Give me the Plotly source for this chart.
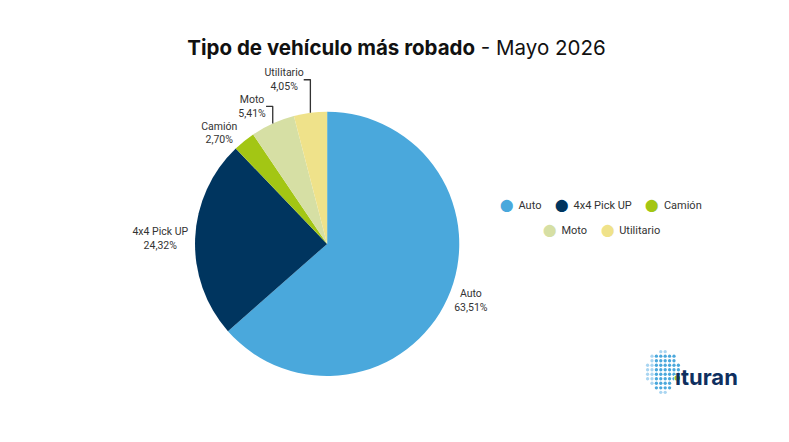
import numpy as np
import plotly.graph_objects as go

# datos
categorias = ["Auto", "4x4 Pick UP", "Camión", "Moto", "Utilitario"]
porcentajes = [63.51, 24.32, 2.70, 5.41, 4.05]
etiquetas_pct = ["63,51%", "24,32%", "2,70%", "5,41%", "4,05%"]
colores = ["#4AA8DC", "#00355F", "#A3C614", "#D6DFA4", "#EFE28A"]
filas_leyenda = [[0, 1, 2], [3, 4]]

fig = go.Figure()

fig.add_trace(go.Pie(
    labels=categorias,
    values=porcentajes,
    text=etiquetas_pct,
    texttemplate="%{label}<br>%{text}",
    textposition="outside",
    textfont=dict(size=10.5, color="#333333", family="Roboto"),
    marker=dict(colors=colores, line=dict(width=0)),
    sort=False,
    direction="clockwise",
    rotation=0,
    showlegend=False,
    hoverinfo="label+text",
    domain=dict(x=[0.139, 0.639], y=[0.1674, 0.7652]),
))

# leyenda: dos filas centradas con círculos de color
textos_leyenda = []
for fila in filas_leyenda:
    items = [
        f'<span style="color:{colores[i]};font-size:12px">⬤</span>\u00a0\u00a0{categorias[i]}'
        for i in fila
    ]
    textos_leyenda.append("\u00a0\u00a0\u00a0\u00a0\u00a0".join(items))

# logo ituran: puntos
gx, gy = np.meshgrid(np.arange(8), np.arange(10))
gx, gy = gx.ravel(), gy.ravel()
cx, cy = 3.5, 4.5
mask = ((gx - cx) / 4.0) ** 2 + ((gy - cy) / 4.6) ** 2 <= 1
mask &= ~((gy > 6) & (gx > 5))
mask &= ~((gy > 7) & (np.abs(gx - 3.5) > 9.5 - gy))
lx, ly = gx[mask], gy[mask]
tono = ["#A9D5F1" if (x < 2 or y > 8 or y < 1) else "#4AA8DC" for x, y in zip(lx, ly)]
fig.add_trace(go.Scatter(
    x=lx, y=ly, mode="markers", xaxis="x2", yaxis="y2", showlegend=False,
    hoverinfo="skip", marker=dict(size=3.3, color=tono),
))

# punto verde de la i
fig.add_trace(go.Scatter(
    x=[0], y=[0], mode="markers", xaxis="x3", yaxis="y3", showlegend=False,
    hoverinfo="skip", marker=dict(size=5.5, color="#A3C614"),
))

anotaciones = [
    dict(
        text=txt, xref="paper", yref="paper", x=588 / 789, y=1 - ypx / 442,
        xanchor="center", yanchor="middle", showarrow=False,
        font=dict(size=11, color="#333333", family="Roboto"),
    )
    for txt, ypx in zip(textos_leyenda, [197, 222])
]
anotaciones.append(dict(
    text="<b>ıturan</b>", xref="paper", yref="paper",
    x=731 / 789, y=1 - 369 / 442, xanchor="right", yanchor="middle",
    showarrow=False, font=dict(size=22, color="#0E2F5F", family="Inter"),
))

fig.update_layout(
    width=789, height=442,
    margin=dict(l=0, r=0, t=0, b=0),
    paper_bgcolor="white", plot_bgcolor="white",
    font=dict(family="Roboto", color="#333333"),
    showlegend=False,
    title=dict(
        text="<b>Tipo de vehículo más robado</b> - Mayo 2026",
        x=0.4924, xanchor="center", y=1 - 40 / 442, yanchor="middle",
        font=dict(size=20.5, color="#111111", family="Inter"),
    ),
    xaxis=dict(visible=False),
    yaxis=dict(visible=False),
    xaxis2=dict(visible=False, domain=[633 / 789, 670 / 789], range=[-0.6, 7.6]),
    yaxis2=dict(visible=False, domain=[1 - 387 / 442, 1 - 341 / 442], range=[9.6, -0.6]),
    xaxis3=dict(visible=False, domain=[663 / 789, 669 / 789], range=[-1, 1]),
    yaxis3=dict(visible=False, domain=[1 - 373 / 442, 1 - 367 / 442], range=[-1, 1]),
    annotations=anotaciones,
)

fig.write_html("out.html")
